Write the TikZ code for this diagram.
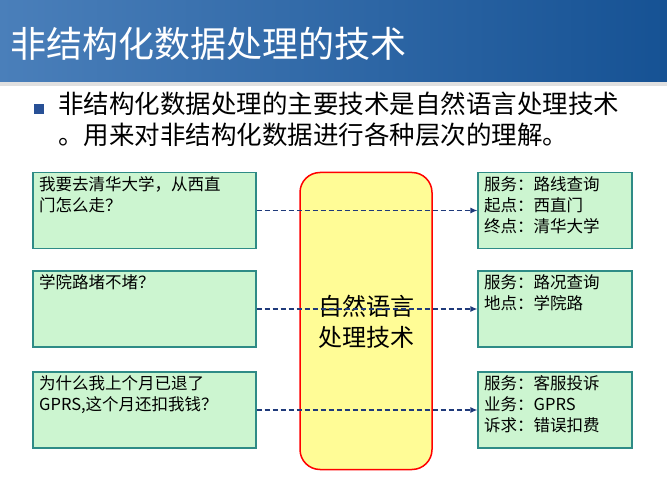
\documentclass[tikz,border=0pt]{standalone}
\usepackage{fontspec}
\newfontfamily\cjk{Noto Sans CJK SC}
\usetikzlibrary{arrows.meta}
\definecolor{boxg}{HTML}{CCF5D0}
\definecolor{boxb}{HTML}{2E8B86}
\definecolor{arr}{HTML}{1F3A7A}
\definecolor{tl}{HTML}{4A7FBA}
\definecolor{tr}{HTML}{165294}
\definecolor{bulc}{HTML}{285096}
\definecolor{yel}{HTML}{FFFC96}
\tikzset{
 lbox/.style={draw=boxb,fill=boxg,line width=1.2pt,minimum width=223pt,minimum height=76pt},
 rbox/.style={draw=boxb,fill=boxg,line width=1.2pt,minimum width=154pt,minimum height=76pt},
 btxt/.style={anchor=north west,font=\cjk\fontsize{16.5}{21}\selectfont,align=left,inner sep=0pt},
 conn/.style={draw=arr,dash pattern=on 5pt off 3pt,line width=1.2pt,-{Latex[length=7pt,width=6pt]}}
}
\begin{document}
\begin{tikzpicture}[x=1pt,y=-1pt]
\useasboundingbox (0,0) rectangle (667,500);
\fill[white] (0,0) rectangle (667,500);
\shade[left color=tl,right color=tr] (0,0) rectangle (667,82);
\fill[black!12] (0,82) rectangle (667,86);
\node[anchor=west,text=white,font=\cjk\fontsize{36}{40}\selectfont,inner sep=0pt] (title) at (10,44) {非结构化数据处理的技术};
\fill[bulc] (34,104) rectangle (44,114);
\node[anchor=north west,font=\cjk\fontsize{25.5}{31}\selectfont,inner sep=0pt,align=left] (intro) at (58,92) {非结构化数据处理的主要技术是自然语言处理技术\\。用来对非结构化数据进行各种层次的理解。};
\node[draw=red,line width=1.5pt,fill=yel,rounded corners=20pt,minimum width=132pt,minimum height=297pt] (nlp) at (366,321) {};
\node[lbox] (l1) at (144.5,210.5) {};
\node[lbox] (l2) at (144.5,309) {};
\node[lbox] (l3) at (144.5,410) {};
\node[rbox] (r1) at (555,210.5) {};
\node[rbox] (r2) at (555,309) {};
\node[rbox] (r3) at (555,410) {};
\node[btxt] at (39,176) {我要去清华大学，从西直\\门怎么走？};
\node[btxt] at (39,274) {学院路堵不堵？};
\node[btxt] at (39,375) {为什么我上个月已退了\\GPRS,这个月还扣我钱？};
\node[btxt] at (484,176) {服务：路线查询\\起点：西直门\\终点：清华大学};
\node[btxt] at (484,274) {服务：路况查询\\地点：学院路};
\node[btxt] at (484,375) {服务：客服投诉\\业务：GPRS\\诉求：错误扣费};
\node[font=\cjk\fontsize{24}{31}\selectfont,align=center] (nt) at (366,322) {自然语言\\处理技术};
\draw[conn] (l1.east) -- (r1.west);
\draw[conn] (l2.east) -- (r2.west);
\draw[conn] (l3.east) -- (r3.west);
\end{tikzpicture}
\end{document}
